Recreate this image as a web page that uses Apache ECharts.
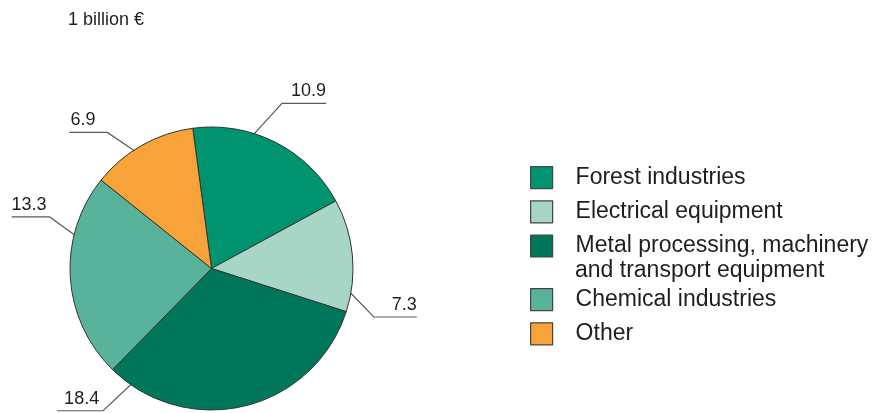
<!DOCTYPE html>
<html>
<head>
<meta charset="utf-8">
<style>
  html, body { margin: 0; padding: 0; background: #ffffff; }
  #chart { width: 877px; height: 413px; }
</style>
<script src="https://cdn.jsdelivr.net/npm/echarts@6/dist/echarts.min.js"></script>
</head>
<body>
<div id="chart"></div>
<script>
// Industry shares, billion euro
const categories = [
  'Forest industries',
  'Electrical equipment',
  'Metal processing, machinery and transport equipment',
  'Chemical industries',
  'Other'
];
const values = [10.9, 7.3, 18.4, 13.3, 6.9];
const unitLabel = '1 billion €';

// Slice colours, in category order
const colors = ['#00936f', '#a7d6c6', '#00765a', '#58b39a', '#f8a23a'];

// Pie geometry (pixels)
const CX = 211.5, CY = 268.5, R = 141.5;

// Callout style per slice: where the leader starts inside the slice
// (clock angle in degrees, fraction of radius), the diagonal run, and the underline run.
const callouts = [
  { angle: 16.2,  depth: 0.95, dx: 33,  dy: -36, run: 44,  inset: 0 },
  { angle: 96.4,  depth: 0.92, dx: 33,  dy: 34,  run: 43,  inset: 0 },
  { angle: 214,   depth: 0.94, dx: -34, dy: 32,  run: -46, inset: 7 },
  { angle: 282.4, depth: 0.94, dx: -32, dy: -23, run: -38, inset: 0 },
  { angle: 328.2, depth: 0.94, dx: -34, dy: -23, run: -38, inset: 1 }
];

const smallFont = "'Liberation Sans', Arial, sans-serif";
const regularFont = "'Liberation Sans', Arial, sans-serif";
const textColor = '#1e1e1e';

const chart = echarts.init(document.getElementById('chart'), null, { renderer: 'canvas' });

const firstLine = name => name === categories[2] ? 'Metal processing, machinery' : name;

const legendCommon = {
  orient: 'vertical',
  left: 530,
  padding: 0,
  itemWidth: 22,
  itemHeight: 22,
  itemGap: 11,
  selectedMode: false,
  icon: 'rect',
  itemStyle: { borderColor: '#444', borderWidth: 1.2 },
  textStyle: {
    fontFamily: regularFont,
    fontSize: 23,
    lineHeight: 22,
    color: textColor,
    padding: [0, 0, 0, 18]
  },
  formatter: firstLine
};

chart.setOption({
  animation: false,
  color: colors,
  title: {
    text: unitLabel,
    left: 68,
    top: 11,
    padding: 0,
    textStyle: { fontFamily: smallFont, fontSize: 18, fontWeight: 'normal', color: textColor }
  },
  legend: [
    Object.assign({}, legendCommon, { top: 166, data: categories.slice(0, 3) }),
    Object.assign({}, legendCommon, { top: 288, data: categories.slice(3) })
  ],
  graphic: [{
    type: 'text',
    x: 575,
    y: 271,
    style: {
      text: 'and transport equipment',
      fontFamily: regularFont,
      fontSize: 23,
      fill: textColor,
      verticalAlign: 'middle',
      textVerticalAlign: 'middle'
    }
  }],
  series: [{
    type: 'pie',
    center: [CX, CY],
    radius: R,
    startAngle: 97.6,
    clockwise: true,
    avoidLabelOverlap: false,
    emphasis: { disabled: true },
    itemStyle: { borderColor: '#333', borderWidth: 1 },
    label: {
      show: true,
      position: 'outside',
      formatter: p => p.value.toFixed(1),
      fontFamily: smallFont,
      fontSize: 18,
      color: textColor
    },
    labelLine: {
      show: true,
      smooth: false,
      lineStyle: { color: '#5a5a5a', width: 1.2 }
    },
    labelLayout: function (params) {
      const c = callouts[params.dataIndex];
      const a = c.angle * Math.PI / 180;
      const ax = CX + R * c.depth * Math.sin(a);
      const ay = CY - R * c.depth * Math.cos(a);
      const ex = ax + c.dx;
      const ey = ay + c.dy;
      const tx = ex + c.run;
      const right = c.run > 0;
      return {
        x: right ? tx : tx + c.inset,
        y: ey - 3,
        align: right ? 'right' : 'left',
        verticalAlign: 'bottom',
        labelLinePoints: [[ax, ay], [ex, ey], [tx, ey]]
      };
    },
    data: categories.map((name, i) => ({ name: name, value: values[i] }))
  }]
});
</script>
</body>
</html>
